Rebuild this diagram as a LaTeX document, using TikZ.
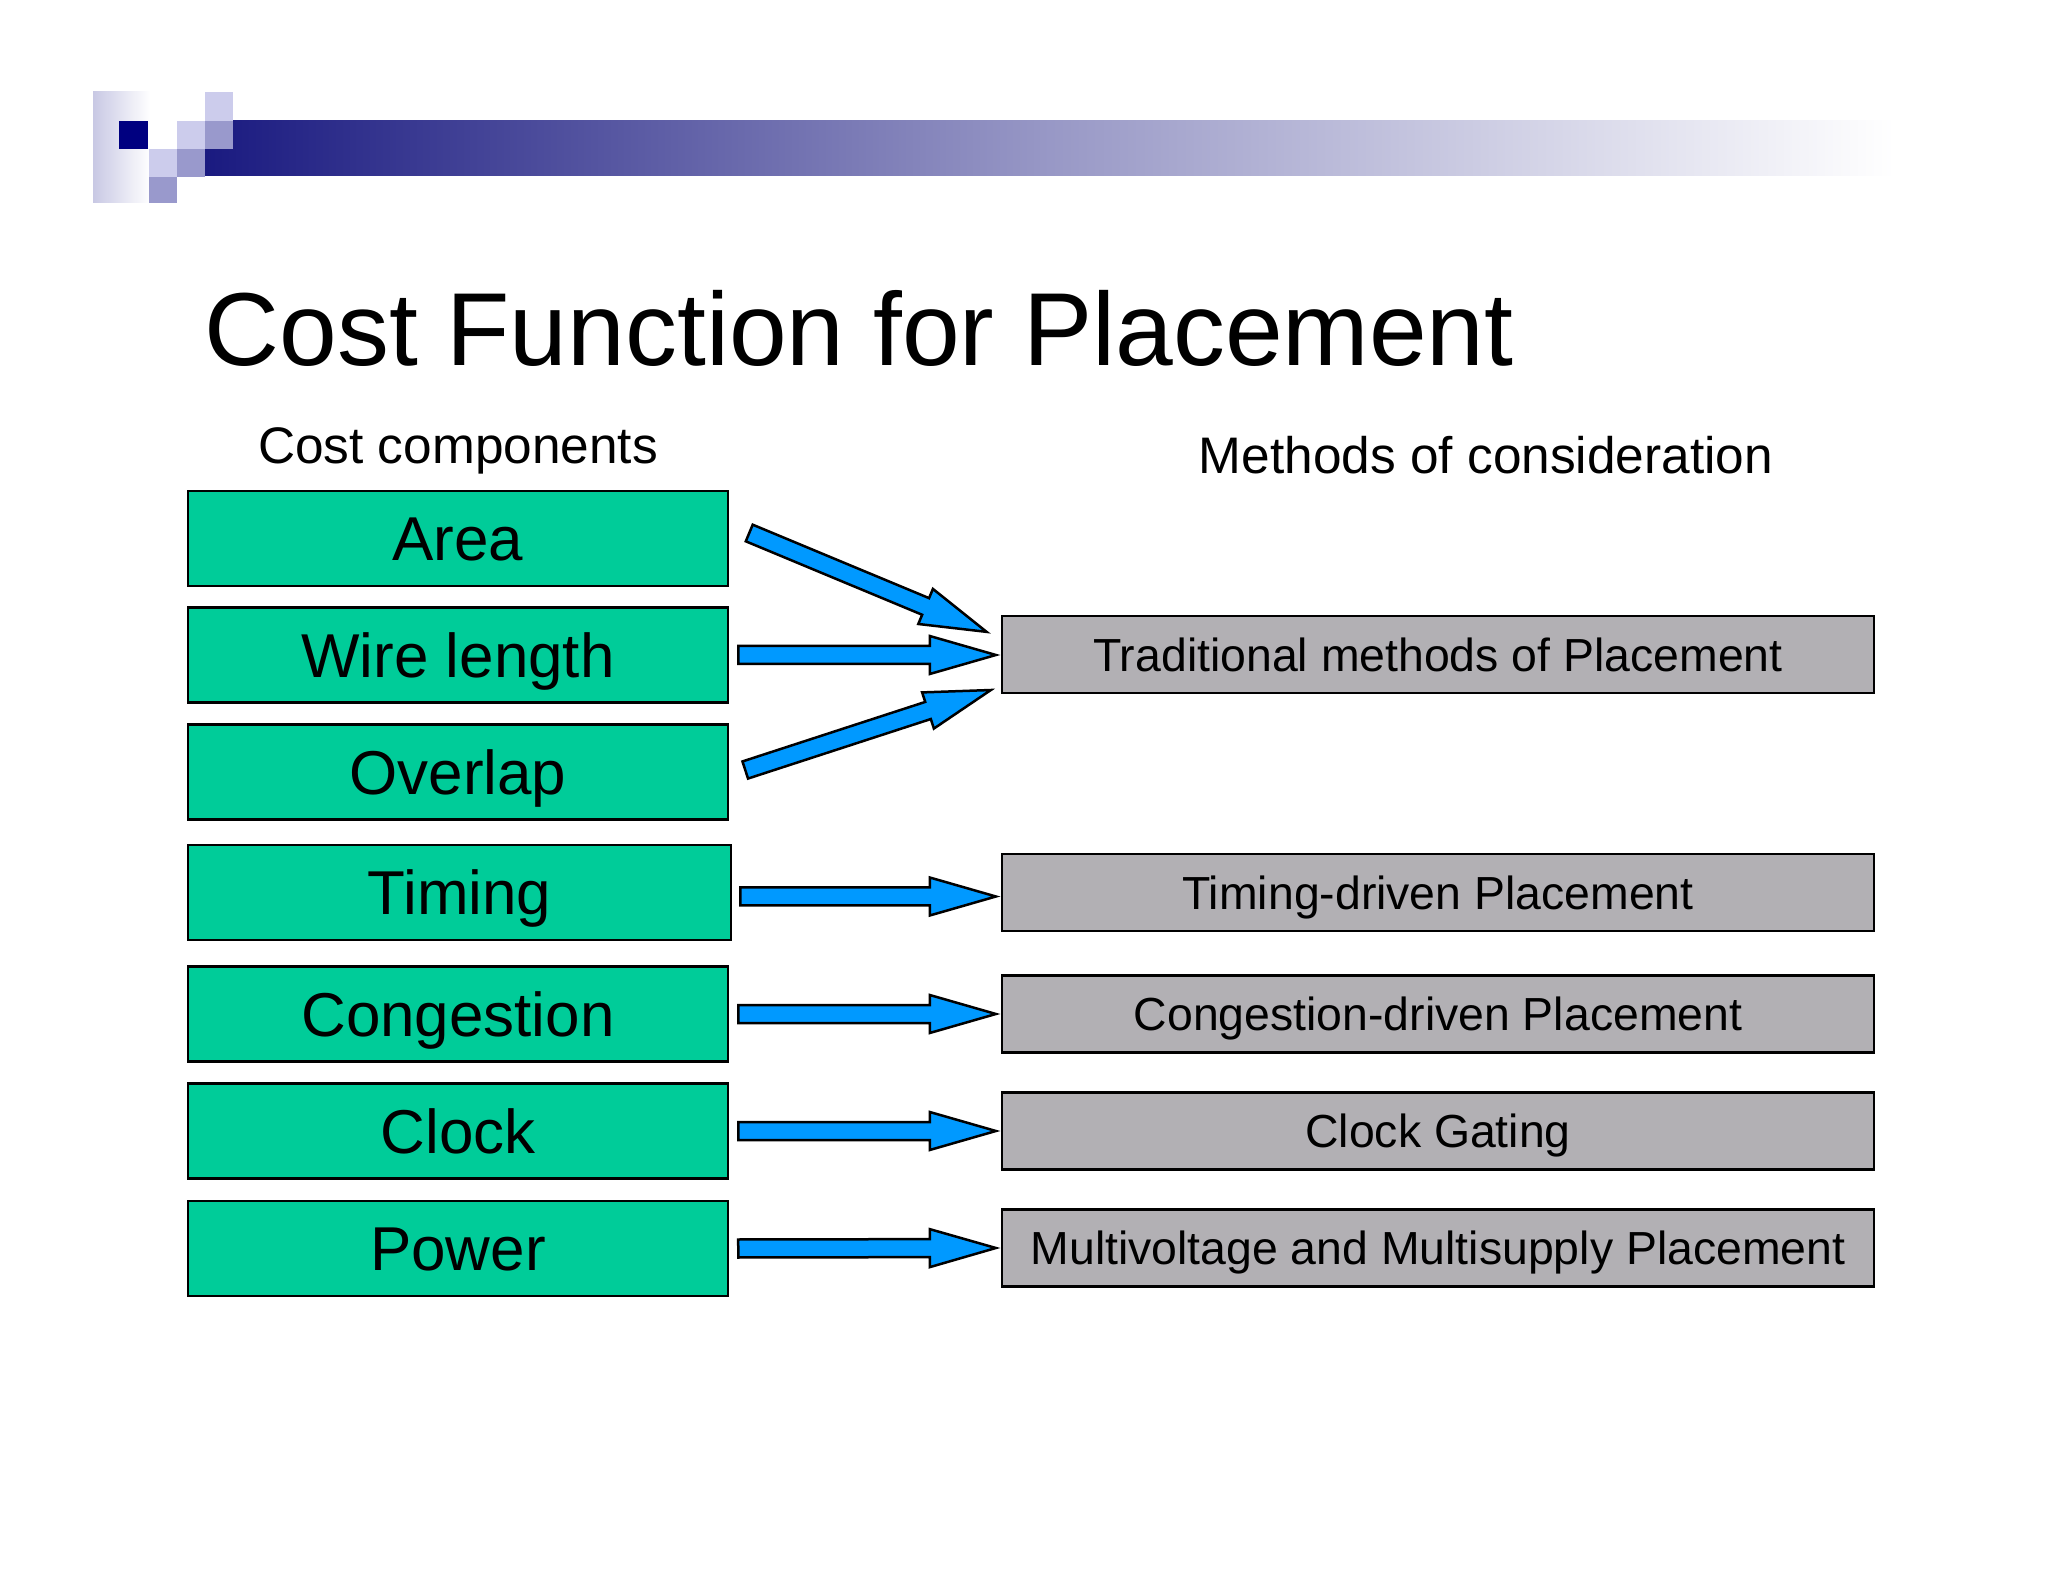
\documentclass[tikz,border=0pt]{standalone}
\usepackage{fontspec}
\setmainfont{Liberation Sans}
\usetikzlibrary{calc}
\definecolor{boxgreen}{RGB}{0,204,153}
\definecolor{boxgray}{RGB}{178,176,180}
\definecolor{arrowblue}{RGB}{0,153,255}
\definecolor{navysq}{RGB}{0,0,128}
\definecolor{lightsq}{RGB}{204,204,236}
\definecolor{medsq}{RGB}{153,153,204}
\definecolor{barnavy}{RGB}{26,26,128}
\definecolor{lavender}{RGB}{200,200,228}
\tikzset{
  gbox/.style={draw=black, line width=0.9pt, fill=boxgreen, inner sep=0pt,
    minimum width=194.4pt, minimum height=34.2pt,
    font=\fontsize{22.3}{26}\selectfont, text height=16pt, text depth=0pt},
  graybox/.style={draw=black, line width=0.8pt, fill=boxgray, inner sep=0pt,
    minimum width=313.9pt, minimum height=27.7pt,
    font=\fontsize{16.7}{20}\selectfont, text height=12pt, text depth=0pt},
  lbl/.style={anchor=base, inner sep=0pt, font=\fontsize{18.5}{22}\selectfont},
  barrow/.style={draw=black, line width=0.9pt, fill=arrowblue, line join=miter},
}
\newcommand\blockarrow[2]{%
  \draw[barrow] let \p1=(#1), \p2=(#2),
      \n1={atan2(\y2-\y1,\x2-\x1)}, \n2={veclen(\x2-\x1,\y2-\y1)} in
    [shift={(\p1)}, rotate=\n1]
    (0pt,-3.24pt) -- (\n2*1pt-23.8pt,-3.24pt) -- (\n2*1pt-23.8pt,-6.84pt)
    -- (\n2*1pt,0pt) -- (\n2*1pt-23.8pt,6.84pt) -- (\n2*1pt-23.8pt,3.24pt)
    -- (0pt,3.24pt) -- cycle;}
\begin{document}
\begin{tikzpicture}[x=0.36pt, y=-0.36pt]
\useasboundingbox (0,0) rectangle (2048,1582);
\fill[white] (0,0) rectangle (2048,1582);
% header decoration
\shade[left color=lavender, right color=white] (93,92) rectangle (150,203);
\shade[left color=barnavy, right color=white, middle color=barnavy!45!white] (205,121) rectangle (1894,176);
\fill[navysq] (119,121) rectangle (148,149);
\fill[lightsq] (205,92) rectangle (233,121);
\fill[lightsq] (177,121) rectangle (205,149);
\fill[lightsq] (149,149) rectangle (177,177);
\fill[medsq] (205,121) rectangle (233,149);
\fill[medsq] (177,149) rectangle (205,177);
\fill[medsq] (149,177) rectangle (177,203);
% title and headings
\node[anchor=base west, inner sep=0pt, font=\fontsize{37.35}{45}\selectfont] (title) at (204,366) {Cost Function for Placement};
\node[lbl] (costc) at (458,464) {Cost components};
\node[lbl] (methods) at (1486,474) {Methods of consideration};
% cost components
\node[gbox] (area) at (458,538.5) {Area};
\node[gbox] (wire) at (458,655) {Wire length};
\node[gbox] (overlap) at (458,772) {Overlap};
\node[gbox, minimum width=195.5pt] (timing) at (459.5,892.5) {Timing};
\node[gbox] (cong) at (458,1014) {Congestion};
\node[gbox] (clock) at (458,1131) {Clock};
\node[gbox] (power) at (458,1248.5) {Power};
% methods
\node[graybox] (trad) at (1438,654.5) {Traditional methods of Placement};
\node[graybox] (tdp) at (1438,892.5) {Timing-driven Placement};
\node[graybox] (cdp) at (1438,1014) {Congestion-driven Placement};
\node[graybox] (cg) at (1438,1131) {Clock Gating};
\node[graybox] (mv) at (1438,1248) {Multivoltage and Multisupply Placement};
% arrow end points
\coordinate (s1) at ($(area.east)+(20,-5.5)$);
\coordinate (e1) at ($(trad.west)+(-14,-22.5)$);
\coordinate (s2) at ($(wire.east)+(9,0)$);
\coordinate (e2) at ($(trad.west)+(-5,0.5)$);
\coordinate (s3) at ($(overlap.east)+(16,-2)$);
\coordinate (e3) at ($(trad.west)+(-10,35.5)$);
\coordinate (s4) at ($(timing.east)+(8,4)$);
\coordinate (e4) at ($(tdp.west)+(-5,4)$);
\coordinate (s5) at ($(cong.east)+(9,0)$);
\coordinate (e5) at ($(cdp.west)+(-5,0)$);
\coordinate (s6) at ($(clock.east)+(9,0)$);
\coordinate (e6) at ($(cg.west)+(-5,0)$);
\coordinate (s7) at ($(power.east)+(9,0)$);
\coordinate (e7) at ($(mv.west)+(-5,0)$);
\blockarrow{s1}{e1}
\blockarrow{s2}{e2}
\blockarrow{s3}{e3}
\blockarrow{s4}{e4}
\blockarrow{s5}{e5}
\blockarrow{s6}{e6}
\blockarrow{s7}{e7}
\end{tikzpicture}
\end{document}
